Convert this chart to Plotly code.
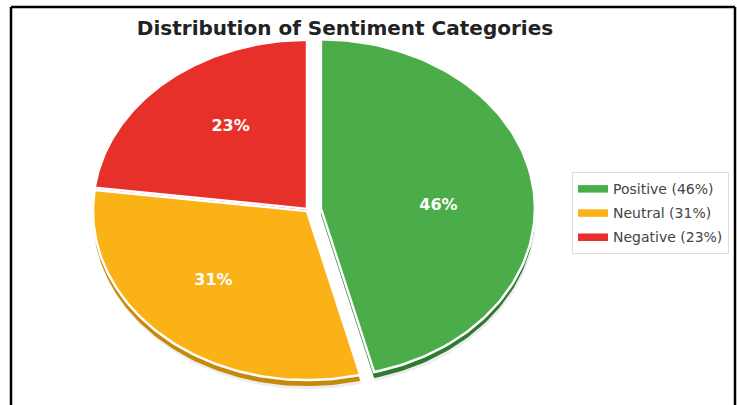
import numpy as np
import plotly.graph_objects as go

# ---- data ----
categories = ["Positive", "Neutral", "Negative"]
shares = [46, 31, 23]
colors = ["#4aad4a", "#fbb217", "#e8302a"]
side_colors = ["#2e7a31", "#c68a0b", "#9e1a1a"]

# ---- layout parameters (pixels) ----
W, H = 737, 405
cx, cy = 308, 210
rx, ry = 214, 169
depth = 6
pulls = [13, 1.5, 1.5]
label_r = 0.61
label_rot = np.deg2rad(5)

fig = go.Figure()

total = sum(shares)
fracs = [s / total for s in shares]
starts = np.cumsum([0] + fracs[:-1])


def wedge(a0, a1, ox, oy, dy=0.0):
    th = np.linspace(a0, a1, 120)
    xs = ox + rx * np.sin(th)
    ys = oy + dy - ry * np.cos(th)
    xs = np.concatenate([[ox], xs, [ox]])
    ys = np.concatenate([[oy + dy], ys, [oy + dy]])
    return xs, ys


geo = []
for i, (f, s0) in enumerate(zip(fracs, starts)):
    a0 = 2 * np.pi * s0
    a1 = 2 * np.pi * (s0 + f)
    am = (a0 + a1) / 2
    ox = cx + pulls[i] * np.sin(am)
    oy = cy - pulls[i] * np.cos(am)
    geo.append((a0, a1, am, ox, oy))

# painter's order: back (Negative) first, then Neutral, then Positive
order = [2, 1, 0]

# soft shadow
for i in order:
    a0, a1, am, ox, oy = geo[i]
    xs, ys = wedge(a0, a1, ox + 1, oy, dy=depth + 3)
    fig.add_trace(go.Scatter(x=xs, y=ys, fill="toself", mode="lines",
                             line=dict(width=0, color="rgba(0,0,0,0)"),
                             fillcolor="rgba(0,0,0,0.07)",
                             showlegend=False, hoverinfo="skip"))

for i in order:
    a0, a1, am, ox, oy = geo[i]
    xs, ys = wedge(a0, a1, ox, oy, dy=depth)
    fig.add_trace(go.Scatter(x=xs, y=ys, fill="toself", mode="lines",
                             line=dict(width=0, color=side_colors[i]),
                             fillcolor=side_colors[i],
                             showlegend=False, hoverinfo="skip"))
    xs, ys = wedge(a0, a1, ox, oy)
    fig.add_trace(go.Scatter(x=xs, y=ys, fill="toself", mode="lines",
                             line=dict(width=2.5, color="white"),
                             fillcolor=colors[i],
                             showlegend=False, hoverinfo="skip"))

# percentage labels (placed relative to the un-pulled pie centre)
for i in range(3):
    a0, a1, am, ox, oy = geo[i]
    al = am + label_rot
    fig.add_trace(go.Scatter(
        x=[cx + label_r * rx * np.sin(al)], y=[cy - label_r * ry * np.cos(al)],
        mode="text", text=[f"<b>{shares[i]}%</b>"],
        textfont=dict(color="white", size=16, family="DejaVu Sans"),
        showlegend=False, hoverinfo="skip"))

# legend entries
for i in range(3):
    fig.add_trace(go.Scatter(
        x=[None], y=[None], fill="toself", mode="lines",
        line=dict(width=3, color=colors[i]), fillcolor=colors[i],
        name=f"{categories[i]} ({shares[i]}%)", legendgroup=categories[i]))

fig.update_layout(
    width=W, height=H,
    margin=dict(l=0, r=0, t=0, b=0),
    paper_bgcolor="white", plot_bgcolor="white",
    xaxis=dict(range=[0, W], visible=False, fixedrange=True),
    yaxis=dict(range=[H, 0], visible=False, fixedrange=True),
    title=dict(text="<b>Distribution of Sentiment Categories</b>",
               x=345 / W, xanchor="center", y=1 - 28 / H, yanchor="middle",
               font=dict(family="DejaVu Sans", size=20, color="#222222")),
    legend=dict(x=572 / W, y=1 - 172 / H, xanchor="left", yanchor="top",
                bordercolor="#dddddd", borderwidth=1, bgcolor="white",
                font=dict(family="DejaVu Sans", size=14, color="#444444"),
                tracegroupgap=3),
    showlegend=True,
    shapes=[
        dict(type="line", xref="paper", yref="paper", x0=11 / W, x1=11 / W, y0=-0.1, y1=1 - 7 / H,
             line=dict(color="black", width=2.5)),
        dict(type="line", xref="paper", yref="paper", x0=11 / W, x1=735 / W, y0=1 - 7 / H, y1=1 - 7 / H,
             line=dict(color="black", width=2.5)),
        dict(type="line", xref="paper", yref="paper", x0=735 / W, x1=735 / W, y0=-0.1, y1=1 - 7 / H,
             line=dict(color="black", width=2.5)),
    ],
)

fig.write_html("out.html")
